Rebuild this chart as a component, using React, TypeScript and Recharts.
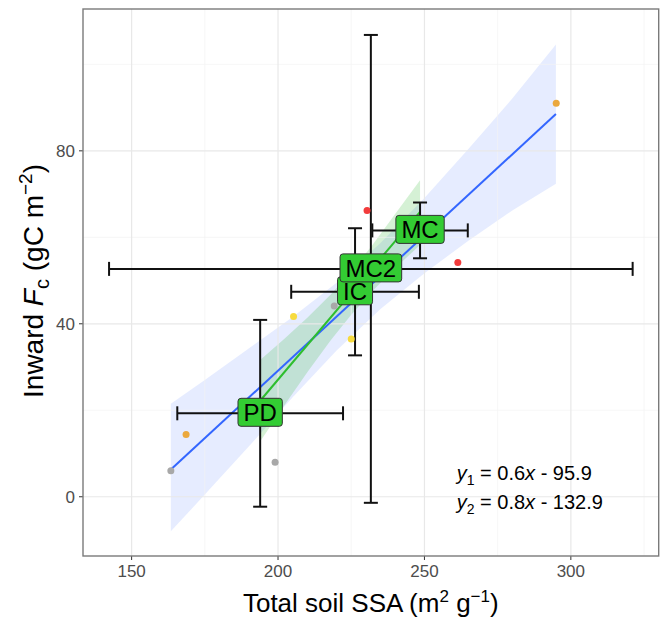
import React from 'react'
import { ComposedChart, Scatter, Area, Line, XAxis, YAxis, ReferenceLine, ErrorBar } from 'recharts'

// raw sample points (coloured by group)
const POINTS = [
  { x: 163.4, y: 6.0, g: 'grey' },
  { x: 168.6, y: 14.4, g: 'orange' },
  { x: 199.0, y: 8.0, g: 'grey' },
  { x: 205.3, y: 41.7, g: 'yellow' },
  { x: 219.2, y: 44.1, g: 'grey' },
  { x: 225.0, y: 36.5, g: 'yellow' },
  { x: 230.4, y: 66.2, g: 'red' },
  { x: 261.4, y: 54.2, g: 'red' },
  { x: 295.0, y: 91.0, g: 'orange' },
]

// site means with SD
const SITES = [
  { name: 'PD', x: 193.9, y: 19.3, ex: 28.3, ey: 21.6 },
  { name: 'IC', x: 226.3, y: 47.4, ex: 21.8, ey: 14.7 },
  { name: 'MC2', x: 231.7, y: 52.7, ex: 89.4, ey: 54.1 },
  { name: 'MC', x: 248.5, y: 61.6, ex: 16.3, ey: 6.45 },
]

// fit 1 (all points) and its confidence band
const FIT1 = [
  { x: 163.4, y: 6.3 },
  { x: 294.9, y: 88.5 },
]
const BAND1 = [
  { x: 163.4, lo: -8.0, hi: 21.5 },
  { x: 175, lo: 0.5, hi: 27.0 },
  { x: 190, lo: 11.6, hi: 34.3 },
  { x: 205, lo: 23.0, hi: 41.6 },
  { x: 220, lo: 33.8, hi: 49.5 },
  { x: 235, lo: 43.4, hi: 58.7 },
  { x: 250, lo: 51.7, hi: 69.1 },
  { x: 265, lo: 59.2, hi: 80.4 },
  { x: 280, lo: 66.2, hi: 92.1 },
  { x: 294.9, lo: 72.4, hi: 104.6 },
]

// fit 2 (site means) and its confidence band
const FIT2 = [
  { x: 193.9, y: 22.2 },
  { x: 248.5, y: 65.9 },
]
const BAND2 = [
  { x: 193.9, lo: 12.8, hi: 31.6 },
  { x: 202, lo: 21.0, hi: 36.4 },
  { x: 210, lo: 28.8, hi: 41.4 },
  { x: 218, lo: 36.2, hi: 46.8 },
  { x: 225, lo: 42.1, hi: 52.1 },
  { x: 232, lo: 47.4, hi: 58.0 },
  { x: 240, lo: 52.9, hi: 65.4 },
  { x: 248.5, lo: 58.2, hi: 73.2 },
]

const X_TICKS = [150, 200, 250, 300]
const X_MINOR = [175, 225, 275, 325]
const Y_TICKS = [0, 40, 80]
const Y_MINOR = [20, 60, 100]

const GROUP_COLORS: Record<string, string> = {
  grey: '#A8A8A8',
  orange: '#EBA83D',
  yellow: '#F7DB3F',
  red: '#F23B3B',
}

const FONT = '"Liberation Sans", Arial, Helvetica, sans-serif'
const CHAR_W: Record<string, number> = { M: 0.833, C: 0.722, '2': 0.556, P: 0.667, D: 0.722, I: 0.278 }

const SiteLabel = (p: any) => {
  const fs = 24
  const label = p.payload.name as string
  const tw = label.split('').reduce((s, c) => s + (CHAR_W[c] ?? 0.6), 0) * fs
  const w = tw + 11
  const h = 28
  return (
    <g>
      <rect x={p.cx - w / 2} y={p.cy - h / 2 - 1} width={w} height={h} rx={3} fill="#33CC33" stroke="#333" strokeWidth={1} />
      <text x={p.cx} y={p.cy + 8} textAnchor="middle" fontSize={fs} fill="#000" fontFamily={FONT}>{label}</text>
    </g>
  )
}

export default function App() {
  return (
    <div style={{ position: 'absolute', left: 0, top: 0, width: 665, height: 620, background: '#fff', fontFamily: FONT }}>
      <ComposedChart width={665} height={620} margin={{ top: 9, right: 6, bottom: 0, left: 0 }}>
        <XAxis dataKey="x" type="number" domain={[133.4, 330.1]} ticks={X_TICKS} allowDataOverflow
          height={64} tickSize={4} tickMargin={5} axisLine={false}
          tickLine={{ stroke: '#333' }} tick={{ fill: '#4D4D4D', fontSize: 17, fontFamily: FONT }} />
        <YAxis dataKey="y" type="number" domain={[-13.7, 112.8]} ticks={Y_TICKS} allowDataOverflow
          width={83} tickSize={4} tickMargin={4} axisLine={false}
          tickLine={{ stroke: '#333' }} tick={{ fill: '#4D4D4D', fontSize: 17, fontFamily: FONT }} />

        {X_MINOR.map(v => <ReferenceLine key={'xm' + v} x={v} stroke="#F2F2F2" strokeWidth={0.7} />)}
        {Y_MINOR.map(v => <ReferenceLine key={'ym' + v} y={v} stroke="#F2F2F2" strokeWidth={0.7} />)}
        {X_TICKS.map(v => <ReferenceLine key={'x' + v} x={v} stroke="#E8E8E8" strokeWidth={1.2} />)}
        {Y_TICKS.map(v => <ReferenceLine key={'y' + v} y={v} stroke="#E8E8E8" strokeWidth={1.2} />)}

        <Scatter data={POINTS} isAnimationActive={false}
          shape={(p: any) => <circle cx={p.cx} cy={p.cy} r={3.5} fill={GROUP_COLORS[p.payload.g]} />} />

        <Area data={BAND1} dataKey={(d: any) => [d.lo, d.hi]} type="linear" stroke="none"
          fill="#3366FF" fillOpacity={0.12} isAnimationActive={false} />
        <Area data={BAND2} dataKey={(d: any) => [d.lo, d.hi]} type="linear" stroke="none"
          fill="#2EB82E" fillOpacity={0.2} isAnimationActive={false} />
        <Line data={FIT1} dataKey="y" type="linear" stroke="#3366FF" strokeWidth={2} dot={false} isAnimationActive={false} />
        <Line data={FIT2} dataKey="y" type="linear" stroke="#2DBE2D" strokeWidth={2} dot={false} isAnimationActive={false} />

        <Scatter data={SITES} isAnimationActive={false} shape={() => <g />}>
          <ErrorBar dataKey="ex" direction="x" width={7} stroke="#111" strokeWidth={2} />
          <ErrorBar dataKey="ey" direction="y" width={7} stroke="#111" strokeWidth={2} />
        </Scatter>
        <Scatter data={SITES} isAnimationActive={false} shape={SiteLabel} />
      </ComposedChart>

      <svg width={665} height={620} style={{ position: 'absolute', left: 0, top: 0, pointerEvents: 'none' }} fontFamily={FONT}>
        <rect x={83} y={9} width={575.7} height={547} fill="none" stroke="#7A7A7A" strokeWidth={1.4} />
        <text x={370.8} y={612} textAnchor="middle" fontSize={26} fill="#000">
          Total soil SSA (m<tspan dy={-10} fontSize={17}>2</tspan><tspan dy={10}> g</tspan><tspan dy={-10} fontSize={17}>−1</tspan><tspan dy={10}>)</tspan>
        </text>
        <text transform="translate(43 281) rotate(-90)" textAnchor="middle" fontSize={28} fill="#000">
          Inward <tspan fontStyle="italic">F</tspan><tspan dy={6} fontSize={20}>c</tspan><tspan dy={-6}> (gC m</tspan><tspan dy={-11} fontSize={19}>−2</tspan><tspan dy={11}>)</tspan>
        </text>
        <text x={456.7} y={480} fontSize={20} fill="#000">
          <tspan fontStyle="italic">y</tspan><tspan dy={5} fontSize={14}>1</tspan><tspan dy={-5}> = 0.6</tspan><tspan fontStyle="italic">x</tspan> - 95.9
        </text>
        <text x={456.7} y={509} fontSize={20} fill="#000">
          <tspan fontStyle="italic">y</tspan><tspan dy={5} fontSize={14}>2</tspan><tspan dy={-5}> = 0.8</tspan><tspan fontStyle="italic">x</tspan> - 132.9
        </text>
      </svg>
    </div>
  )
}
